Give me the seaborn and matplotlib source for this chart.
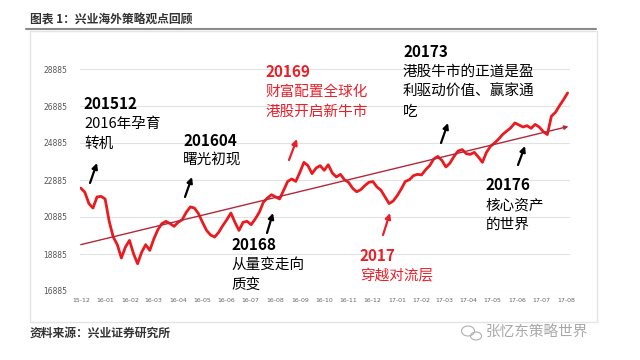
import matplotlib.pyplot as plt
import seaborn as sns
import pandas as pd
from matplotlib.patches import Rectangle, Ellipse
from matplotlib.lines import Line2D

# Index level, roughly every 5 days from 2015-12-01
hsi = [22450, 22220, 21610, 21370, 21970, 22000, 21860, 20650, 19800, 19390,
       18670, 19260, 19620, 18900, 18360, 18980, 19390, 19080, 19700, 20200,
       20530, 20650, 20530, 20380, 20600, 20740, 21140, 21430, 21370, 21070,
       20600, 20160, 19910, 19800, 20060, 20420, 20740, 21100, 20600, 20160,
       20600, 20650, 20470, 20780, 21140, 21680, 21910, 22090, 21970, 21860,
       22330, 22810, 22940, 22810, 23300, 23840, 23660, 23230, 23530, 23660,
       23410, 23710, 23260, 23050, 23190, 22900, 22760, 22440, 22250, 22360,
       22580, 22760, 22800, 22510, 22330, 21970, 21610, 21750, 22040, 22400,
       22810, 22900, 23120, 23190, 23160, 23440, 23660, 24020, 24160, 23950,
       23590, 23800, 24160, 24450, 24530, 24310, 24270, 24380, 24130, 23840,
       24380, 24710, 24885, 25100, 25350, 25530, 25710, 25970, 25860, 25750,
       25820, 25680, 25890, 25750, 25500, 25340, 26330, 26540, 26900, 27230,
       27590]
dates = pd.date_range('2015-12-01', '2017-08-03', periods=len(hsi))

trend_dates = pd.to_datetime(['2015-12-01', '2017-08-04'])
trend_values = [19390, 25780]

month_ticks = pd.date_range('2015-12-01', '2017-08-01', freq='MS')
month_labels = ['15-12', '16-01', '16-02', '16-03', '16-04', '16-05', '16-06',
                '16-07', '16-08', '16-09', '16-10', '16-11', '16-12', '17-01',
                '17-02', '17-03', '17-04', '17-05', '17-06', '17-07', '17-08']
y_ticks = [16885, 18885, 20885, 22885, 24885, 26885, 28885]

# (text lines, colour, left x, first line y, arrow tail, arrow head) in pixels
notes = [
    (['201512', '2016年孕育', '转机'], 'black', 84, 104, (90, 183), (97, 163)),
    (['201604', '曙光初现'], 'black', 183, 141, (185, 197), (192, 177)),
    (['20169', '财富配置全球化', '港股开启新牛市'], '#e8202a', 266, 72, (289, 160), (297, 139)),
    (['20168', '从量变走向', '质变'], 'black', 231, 245, (267, 233), (273, 213)),
    (['2017', '穿越对流层'], '#e8202a', 360, 256, (383, 235), (390, 213)),
    (['20173', '港股牛市的正道是盈', '利驱动价值、赢家通', '吃'], 'black', 403, 52, (441, 143), (448, 123)),
    (['20176', '核心资产', '的世界'], 'black', 486, 185, (518, 165), (525, 146)),
]


def px(x, y):
    return (x / 640, 1 - y / 360)


sns.set_theme(style='white')
plt.rcParams['font.family'] = ['Noto Sans CJK SC', 'DejaVu Sans']

fig = plt.figure(figsize=(6.4, 3.6), dpi=100)
ax = fig.add_axes([80 / 640, 1 - 291 / 360, 490 / 640, 222 / 360])

sns.lineplot(x=dates, y=hsi, ax=ax, color='#ea1a1f', lw=2.0, zorder=3)
ax.annotate('', xy=(trend_dates[1], trend_values[1]),
            xytext=(trend_dates[0], trend_values[0]),
            arrowprops=dict(arrowstyle='-|>', color='#b3283a', lw=1.0,
                            mutation_scale=6, shrinkA=0, shrinkB=0),
            zorder=4)

ax.set_ylim(16885, 28885)
ax.set_yticks(y_ticks)
ax.set_yticklabels([str(v) for v in y_ticks], fontsize=5.5, color='#555555',
                   family='DejaVu Sans')
ax.set_xlim(pd.Timestamp('2015-11-30'), pd.Timestamp('2017-08-06'))
ax.set_xticks(month_ticks)
ax.set_xticklabels(month_labels, fontsize=4.5, color='#666666',
                   family='DejaVu Sans')
ax.tick_params(axis='y', length=0, pad=9)
ax.tick_params(axis='x', length=0, pad=5)
ax.yaxis.grid(True, color='#e2e2e2', lw=0.8)
ax.xaxis.grid(False)
ax.set_xlabel('')
ax.set_ylabel('')
for s in ax.spines.values():
    s.set_visible(False)

for lines, col, x0, y0, tail, head in notes:
    for i, t in enumerate(lines):
        fig.text(*px(x0, y0 + i * 20), t, color=col, va='center', ha='left',
                 fontsize=11 if i == 0 else 10.5,
                 fontweight='bold' if i == 0 else 'medium')
    ax.annotate('', xy=px(*head), xytext=px(*tail), xycoords='figure fraction',
                textcoords='figure fraction',
                arrowprops=dict(arrowstyle='-|>', color=col, lw=1.6,
                                mutation_scale=8, shrinkA=0, shrinkB=0))

# page furniture: title, rule, frame, source, watermark
fig.text(*px(30, 20), '图表 1：兴业海外策略观点回顾', fontsize=8.5, fontweight='bold',
         color='#333333', va='center')
fig.add_artist(Line2D([26 / 640, 596 / 640], [1 - 28.5 / 360] * 2,
                      color='#8a8a8a', lw=1.5))
fig.add_artist(Rectangle(px(30, 322), 567 / 640, 291 / 360, fill=False,
                         edgecolor='#e4e4e4', lw=1))
fig.text(*px(30, 333), '资料来源：兴业证券研究所', fontsize=8.5, fontweight='bold',
         color='#333333', va='center')
fig.add_artist(Ellipse(px(468, 331), 13 / 640, 10 / 360, fill=False,
                       edgecolor='#b0b0b0', lw=0.8))
fig.add_artist(Ellipse(px(476, 336), 11 / 640, 8 / 360, fill=False,
                       edgecolor='#b0b0b0', lw=0.8))
fig.text(*px(486, 333), '张忆东策略世界', fontsize=10.5, color='#a8a8a8',
         va='center')

fig.savefig('out.png', dpi=100)
